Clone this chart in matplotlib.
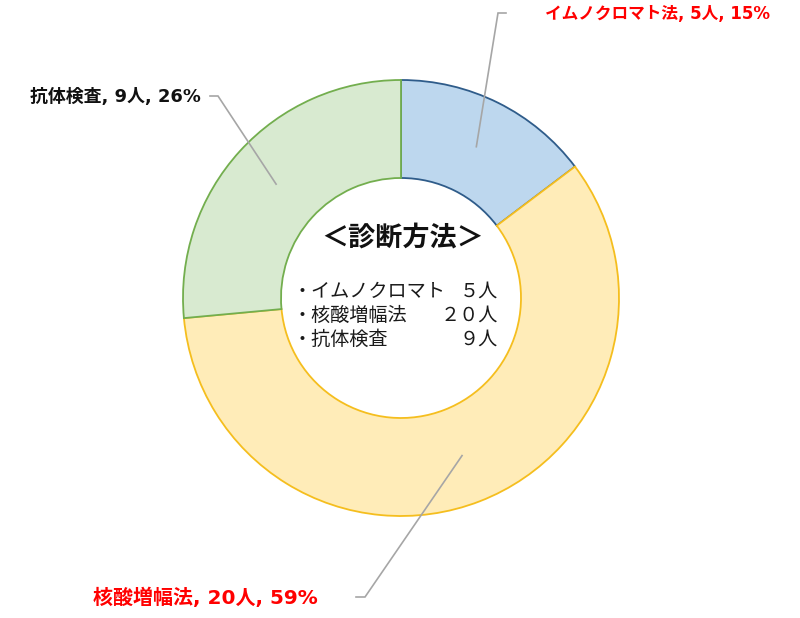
import numpy as np
import matplotlib.pyplot as plt

plt.rcParams['font.family'] = ['Noto Sans CJK JP', 'DejaVu Sans']

# data
methods = ['イムノクロマト法', '核酸増幅法', '抗体検査']
counts = [5, 20, 9]
pcts = [15, 59, 26]
list_names = ['・イムノクロマト', '・核酸増幅法', '・抗体検査']
list_counts = ['５人', '２０人', '９人']

fills = ['#BDD7EE', '#FFECB8', '#D8EAD0']
edges = ['#2F5C8A', '#F5BE1E', '#73AE4E']
label_colors = ['#FF0000', '#FF0000', '#111111']
label_sizes = [12, 14.4, 12.9]

W, H = 800, 618
fig = plt.figure(figsize=(W / 100, H / 100), dpi=100)
ax = fig.add_axes([0, 0, 1, 1])

cx, cy = 401, H - 298
r_out, ring = 218, 98

wedges, _ = ax.pie(counts, radius=r_out, center=(cx, cy), startangle=90,
                   counterclock=False, colors=fills,
                   wedgeprops=dict(width=ring, linewidth=1.3))
for w, e in zip(wedges, edges):
    w.set_edgecolor(e)

ax.set_xlim(0, W)
ax.set_ylim(0, H)
ax.set_aspect('equal')
ax.axis('off')

# leader lines: from ring middle at mid-angle to an elbow near the label
total = sum(counts)
mid_r = r_out - ring / 2
elbows = [((498, 13), (506, 13)), ((365, 597), (356, 597)), ((218, 96), (210, 96))]
text_pos = [(545, 14, 'left'), (318, 598, 'right'), (201, 97, 'right')]
start = 0
for i, c in enumerate(counts):
    ang = np.deg2rad(90 - 360 * (start + c / 2) / total)
    start += c
    ax0 = cx + mid_r * np.cos(ang)
    ay0 = cy + mid_r * np.sin(ang)
    (x1, y1), (x2, y2) = elbows[i]
    ax.plot([ax0, x1, x2], [ay0, H - y1, H - y2], color='#A6A6A6', lw=1.2,
            solid_joinstyle='miter')
    tx, ty, ha = text_pos[i]
    ax.text(tx, H - ty, f'{methods[i]}, {counts[i]}人, {pcts[i]}%',
            color=label_colors[i], fontsize=label_sizes[i], fontweight='bold',
            family=['DejaVu Sans', 'Noto Sans CJK JP'],
            ha=ha, va='center')

# center text
ax.text(cx + 2, H - 237, '＜診断方法＞', fontsize=19.5, fontweight='bold',
        ha='center', va='center', color='#111111')
for i, (n, c) in enumerate(zip(list_names, list_counts)):
    y = H - (291 + 24 * i)
    ax.text(292, y, n, fontsize=13.8, ha='left', va='center', color='#1a1a1a')
    ax.text(498, y, c, fontsize=13.8, ha='right', va='center', color='#1a1a1a')

fig.savefig('out.png', dpi=100)
